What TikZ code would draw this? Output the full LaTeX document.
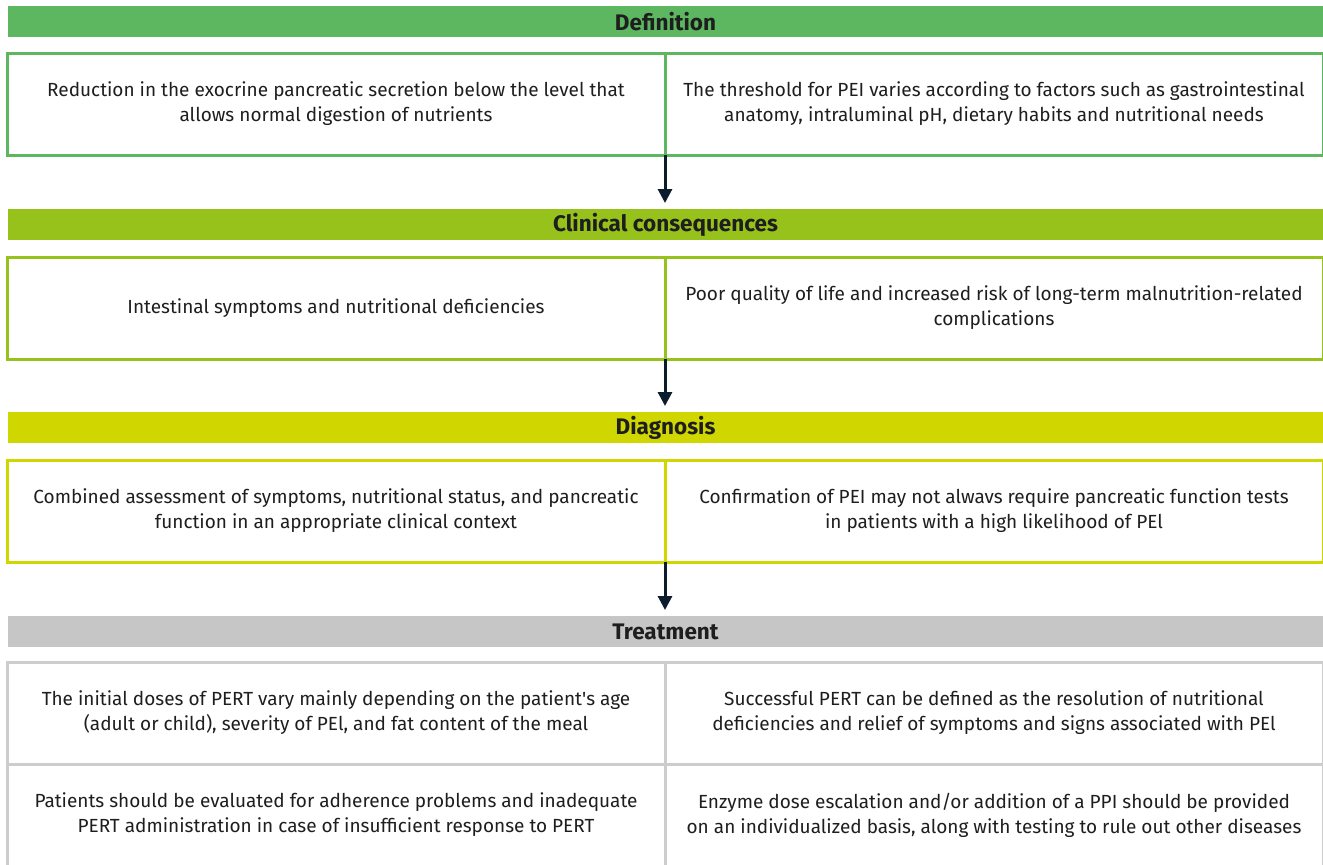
\documentclass[tikz,border=0pt]{standalone}
\usepackage{fontspec}
\setmainfont{Fira Sans}
\usetikzlibrary{arrows.meta}
\definecolor{defgreen}{HTML}{5DB761}
\definecolor{consgreen}{HTML}{97C11B}
\definecolor{diagyellow}{HTML}{CFD600}
\definecolor{treatgray}{HTML}{C5C6C5}
\definecolor{cellgray}{HTML}{CDCDCD}
\definecolor{arrownavy}{HTML}{0B1C2C}
\definecolor{inkblack}{HTML}{1E1E1E}

\begin{document}
\begin{tikzpicture}[x=1pt,y=-1pt]
\tikzstyle{every node}=[font=\fontsize{19}{25}\selectfont, align=center, inner sep=0pt, outer sep=0pt, text=inkblack];
\tikzstyle{head}=[minimum width=1315pt, minimum height=31pt, anchor=north west, font=\fontsize{22.5}{26}\selectfont\bfseries];
\tikzstyle{cell}=[line width=3pt, minimum width=658pt, minimum height=102pt, anchor=north west];
\tikzstyle{flow}=[line width=3pt, draw=arrownavy, -{Triangle[width=14pt,length=14pt]}, shorten >=6pt];
\useasboundingbox (0,0) rectangle (1323,865);
% definition
\node [head, fill=defgreen] (def) at (8,6) {Definition};
\node [cell, draw=defgreen] (defL) at (7,53) {Reduction in the exocrine pancreatic secretion below the level that\\allows normal digestion of nutrients};
\node [cell, draw=defgreen] (defR) at (665,53) {The threshold for PEI varies according to factors such as gastrointestinal\\anatomy, intraluminal pH, dietary habits and nutritional needs};
% clinical consequences
\node [head, fill=consgreen] (cons) at (8,209) {Clinical consequences};
\node [cell, draw=consgreen] (consL) at (7,257) {Intestinal symptoms and nutritional deficiencies};
\node [cell, draw=consgreen] (consR) at (665,257) {Poor quality of life and increased risk of long-term malnutrition-related\\complications};
% diagnosis
\node [head, fill=diagyellow] (diag) at (8,412) {Diagnosis};
\node [cell, draw=diagyellow] (diagL) at (7,460) {Combined assessment of symptoms, nutritional status, and pancreatic\\function in an appropriate clinical context};
\node [cell, draw=diagyellow] (diagR) at (665,460) {Confirmation of PEI may not alwavs require pancreatic function tests\\in patients with a high likelihood of PEl};
% treatment
\node [head, fill=treatgray] (treat) at (8,616) {Treatment};
\node [cell, draw=cellgray] (treatA) at (7,662) {The initial doses of PERT vary mainly depending on the patient\textquotesingle s age\\(adult or child), severity of PEl, and fat content of the meal};
\node [cell, draw=cellgray] (treatB) at (665,662) {Successful PERT can be defined as the resolution of nutritional\\deficiencies and relief of symptoms and signs associated with PEl};
\node [cell, draw=cellgray] (treatC) at (7,764) {Patients should be evaluated for adherence problems and inadequate\\PERT administration in case of insufficient response to PERT};
\node [cell, draw=cellgray] (treatD) at (665,764) {Enzyme dose escalation and/or addition of a PPI should be provided\\on an individualized basis, along with testing to rule out other diseases};
\draw [flow] (defL.south east) -- (defL.south east |- cons.north);
\draw [flow] (consL.south east) -- (consL.south east |- diag.north);
\draw [flow] (diagL.south east) -- (diagL.south east |- treat.north);
\end{tikzpicture}
\end{document}
